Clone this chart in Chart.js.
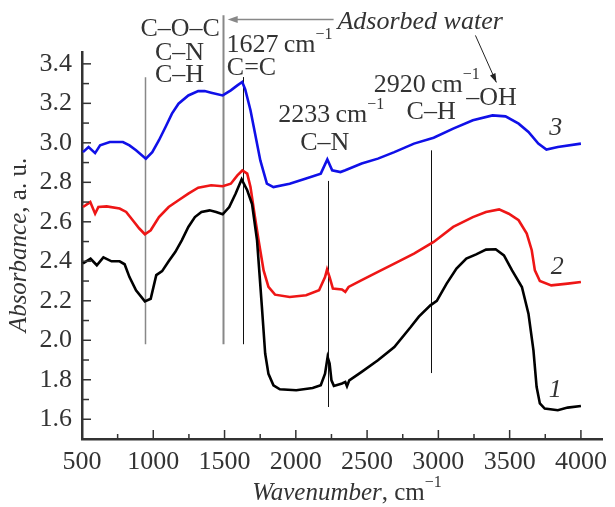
<!DOCTYPE html>
<html>
<head>
<meta charset="utf-8">
<script src="https://cdn.jsdelivr.net/npm/chart.js@4"></script>
<style>
  html, body { margin: 0; padding: 0; background: #fff; }
  #wrap { width: 615px; height: 507px; position: relative; }
</style>
</head>
<body>
<div id="wrap"><canvas id="chart"></canvas></div>
<script>
// spectrum 1 (black)
const WN_1 = [507, 560, 604, 650, 707, 764, 799, 833, 879, 941, 982, 1021, 1062, 1108, 1154, 1200, 1246, 1292, 1338, 1395, 1441, 1487, 1533, 1578, 1620, 1659, 1693, 1728, 1762, 1785, 1808, 1843, 1888, 2003, 2118, 2175, 2205, 2223, 2237, 2250, 2267, 2324, 2347, 2359, 2375, 2462, 2576, 2691, 2806, 2863, 2944, 2989, 3058, 3127, 3196, 3265, 3334, 3402, 3460, 3517, 3586, 3632, 3667, 3689, 3712, 3746, 3838, 3907, 4000];
const ABS_1 = [2.39, 2.413, 2.38, 2.42, 2.40, 2.40, 2.385, 2.32, 2.253, 2.197, 2.21, 2.33, 2.35, 2.40, 2.447, 2.506, 2.574, 2.624, 2.65, 2.658, 2.65, 2.638, 2.675, 2.743, 2.815, 2.76, 2.69, 2.506, 2.169, 1.933, 1.83, 1.772, 1.752, 1.747, 1.758, 1.772, 1.831, 1.915, 1.882, 1.797, 1.769, 1.781, 1.789, 1.767, 1.797, 1.84, 1.899, 1.966, 2.067, 2.12, 2.177, 2.20, 2.287, 2.363, 2.414, 2.435, 2.459, 2.461, 2.43, 2.354, 2.27, 2.135, 1.949, 1.764, 1.68, 1.654, 1.646, 1.659, 1.667];

// spectrum 2 (red)
const WN_2 = [507, 558, 592, 615, 673, 764, 810, 856, 902, 941, 982, 1040, 1108, 1177, 1246, 1315, 1406, 1487, 1544, 1590, 1625, 1659, 1682, 1710, 1739, 1774, 1808, 1854, 1957, 2072, 2163, 2205, 2219, 2237, 2260, 2324, 2347, 2370, 2462, 2576, 2691, 2829, 2967, 3104, 3242, 3334, 3426, 3494, 3563, 3620, 3655, 3677, 3712, 3792, 3907, 4000];
const ABS_2 = [2.675, 2.70, 2.641, 2.675, 2.678, 2.667, 2.65, 2.608, 2.566, 2.537, 2.557, 2.624, 2.675, 2.709, 2.743, 2.773, 2.785, 2.78, 2.793, 2.835, 2.86, 2.844, 2.776, 2.64, 2.506, 2.354, 2.27, 2.231, 2.219, 2.228, 2.253, 2.32, 2.358, 2.32, 2.262, 2.257, 2.245, 2.27, 2.305, 2.346, 2.388, 2.439, 2.498, 2.574, 2.624, 2.65, 2.663, 2.641, 2.608, 2.54, 2.456, 2.354, 2.30, 2.278, 2.287, 2.295];

// spectrum 3 (blue)
const WN_3 = [507, 546, 592, 627, 695, 787, 833, 879, 948, 993, 1040, 1086, 1131, 1177, 1246, 1315, 1361, 1406, 1487, 1544, 1590, 1624, 1645, 1682, 1705, 1751, 1797, 1843, 1957, 2072, 2175, 2221, 2255, 2313, 2347, 2462, 2576, 2691, 2829, 2967, 3104, 3242, 3380, 3471, 3563, 3632, 3701, 3758, 3838, 4000];
const ABS_3 = [2.953, 2.979, 2.948, 2.987, 3.004, 3.004, 2.987, 2.962, 2.92, 2.953, 3.013, 3.08, 3.148, 3.198, 3.24, 3.262, 3.262, 3.254, 3.24, 3.266, 3.291, 3.308, 3.27, 3.165, 3.08, 2.911, 2.793, 2.776, 2.793, 2.819, 2.844, 2.916, 2.861, 2.852, 2.861, 2.895, 2.92, 2.953, 2.996, 3.026, 3.072, 3.114, 3.139, 3.134, 3.097, 3.055, 2.996, 2.966, 2.979, 2.996];

const X_TICKS = [500, 1000, 1500, 2000, 2500, 3000, 3500, 4000];
const X_MINOR = [750, 1250, 1750, 2250, 2750, 3250, 3750];
const Y_TICKS = [1.6, 1.8, 2.0, 2.2, 2.4, 2.6, 2.8, 3.0, 3.2, 3.4];
const Y_MINOR = [1.7, 1.9, 2.1, 2.3, 2.5, 2.7, 2.9, 3.1, 3.3];

// band marker lines: position, top, bottom (data units)
const MARK_X = [941, 1489, 1629, 2225, 2948];
const MARK_TOP = [3.332, 3.646, 3.333, 2.807, 2.962];
const MARK_BOT = [1.98, 1.98, 1.98, 1.662, 1.834];

const FONT = '"Liberation Serif", "Times New Roman", serif';
const INK = '#333';

function toPts(xs, ys) { return xs.map((x, i) => ({ x: x, y: ys[i] })); }

// draws a run of text pieces: [text, 'r' | 'i' | 's']
function rich(ctx, parts, x, y, align, size) {
  size = size || 26;
  const fontOf = k => k === 'i' ? 'italic ' + size + 'px ' + FONT : (k === 's' ? Math.round(size * 0.62) + 'px ' + FONT : size + 'px ' + FONT);
  let w = 0;
  parts.forEach(p => { ctx.font = fontOf(p[1]); w += ctx.measureText(p[0]).width; });
  let cx = align === 'center' ? x - w / 2 : (align === 'right' ? x - w : x);
  ctx.textAlign = 'left';
  ctx.textBaseline = 'middle';
  parts.forEach(p => {
    ctx.font = fontOf(p[1]);
    ctx.fillText(p[0], cx, p[1] === 's' ? y - size * 0.4 : y);
    cx += ctx.measureText(p[0]).width;
  });
}

const decor = {
  id: 'decor',
  beforeDatasetsDraw(chart) {
    const { ctx, scales: { x, y } } = chart;
    ctx.save();
    MARK_X.forEach((m, i) => {
      const px = Math.round(x.getPixelForValue(m)) + 0.5;
      ctx.strokeStyle = i < 2 ? '#888' : '#111';
      ctx.lineWidth = i === 1 ? 2 : (i === 0 ? 1.5 : 1);
      ctx.beginPath();
      ctx.moveTo(px, y.getPixelForValue(MARK_TOP[i]));
      ctx.lineTo(px, y.getPixelForValue(MARK_BOT[i]));
      ctx.stroke();
    });
    ctx.restore();
  },
  afterDraw(chart) {
    const { ctx, scales: { x, y }, chartArea } = chart;
    ctx.save();
    // inward ticks
    ctx.strokeStyle = INK;
    ctx.lineWidth = 1.5;
    const b = chartArea.bottom, l = chartArea.left;
    X_TICKS.concat(X_MINOR).forEach(v => {
      const px = x.getPixelForValue(v);
      const len = X_MINOR.includes(v) ? 5 : 9;
      ctx.beginPath(); ctx.moveTo(px, b); ctx.lineTo(px, b - len); ctx.stroke();
    });
    Y_TICKS.concat(Y_MINOR).forEach(v => {
      const py = y.getPixelForValue(v);
      const len = Y_MINOR.includes(v) ? 7 : 9;
      ctx.beginPath(); ctx.moveTo(l, py); ctx.lineTo(l + len, py); ctx.stroke();
    });

    // arrows
    ctx.strokeStyle = '#888';
    ctx.fillStyle = '#888';
    ctx.lineWidth = 1.5;
    const ax0 = x.getPixelForValue(1522), ax1 = x.getPixelForValue(2265), ay = y.getPixelForValue(3.624);
    ctx.beginPath(); ctx.moveTo(ax0 + 6, ay); ctx.lineTo(ax1, ay); ctx.stroke();
    ctx.beginPath(); ctx.moveTo(ax0, ay); ctx.lineTo(ax0 + 10, ay - 3.5); ctx.lineTo(ax0 + 10, ay + 3.5); ctx.closePath(); ctx.fill();

    ctx.strokeStyle = '#222';
    ctx.fillStyle = '#222';
    ctx.lineWidth = 1;
    const bx0 = x.getPixelForValue(3260), by0 = y.getPixelForValue(3.544);
    const bx1 = x.getPixelForValue(3407), by1 = y.getPixelForValue(3.306);
    const ang = Math.atan2(by1 - by0, bx1 - bx0);
    ctx.beginPath(); ctx.moveTo(bx0, by0); ctx.lineTo(bx1, by1); ctx.stroke();
    ctx.beginPath();
    ctx.moveTo(bx1, by1);
    ctx.lineTo(bx1 - 9 * Math.cos(ang) + 3 * Math.sin(ang), by1 - 9 * Math.sin(ang) - 3 * Math.cos(ang));
    ctx.lineTo(bx1 - 9 * Math.cos(ang) - 3 * Math.sin(ang), by1 - 9 * Math.sin(ang) + 3 * Math.cos(ang));
    ctx.closePath(); ctx.fill();

    // labels
    ctx.fillStyle = INK;
    const cm = [['\u2009cm', 'r'], ['\u22121', 's']];
    rich(ctx, [['C\u2013O\u2013C', 'r']], x.getPixelForValue(1189), y.getPixelForValue(3.575), 'center');
    rich(ctx, [['C\u2013N', 'r']], x.getPixelForValue(1184), y.getPixelForValue(3.453), 'center');
    rich(ctx, [['C\u2013H', 'r']], x.getPixelForValue(1184), y.getPixelForValue(3.342), 'center');
    rich(ctx, [['1627', 'r']].concat(cm), x.getPixelForValue(1514), y.getPixelForValue(3.496), 'left');
    rich(ctx, [['C=C', 'r']], x.getPixelForValue(1516), y.getPixelForValue(3.377), 'left');
    rich(ctx, [['2233', 'r']].concat(cm), x.getPixelForValue(1877), y.getPixelForValue(3.139), 'left');
    rich(ctx, [['C\u2013N', 'r']], x.getPixelForValue(2203), y.getPixelForValue(3.0), 'center');
    rich(ctx, [['2920', 'r']].concat(cm), x.getPixelForValue(2547), y.getPixelForValue(3.291), 'left');
    rich(ctx, [['C\u2013H', 'r']], x.getPixelForValue(2949), y.getPixelForValue(3.156), 'center');
    rich(ctx, [['\u2013OH', 'r']], x.getPixelForValue(3373), y.getPixelForValue(3.225), 'center');
    rich(ctx, [['Adsorbed water', 'i']], x.getPixelForValue(2292), y.getPixelForValue(3.612), 'left');
    rich(ctx, [['3', 'i']], x.getPixelForValue(3824), y.getPixelForValue(3.073), 'center');
    rich(ctx, [['2', 'i']], x.getPixelForValue(3834), y.getPixelForValue(2.37), 'center');
    rich(ctx, [['1', 'i']], x.getPixelForValue(3820), y.getPixelForValue(1.747), 'center');

    // axis titles
    rich(ctx, [['Wavenumber', 'i'], [', cm', 'r'], ['\u22121', 's']], 347, 493, 'center', 25);
    ctx.translate(19, 245);
    ctx.rotate(-Math.PI / 2);
    rich(ctx, [['Absorbance', 'i'], [', a. u.', 'r']], 0, 0, 'center', 25);
    ctx.restore();
  }
};

const line = (pts, color) => ({
  data: pts, showLine: true, borderColor: color, borderWidth: 2.6,
  pointRadius: 0, tension: 0, fill: false
});

function build() {
  new Chart(document.getElementById('chart'), {
    type: 'scatter',
    data: {
      datasets: [
        line(toPts(WN_1, ABS_1), '#000'),
        line(toPts(WN_2, ABS_2), '#ee1616'),
        line(toPts(WN_3, ABS_3), '#1010e8')
      ]
    },
    options: {
      responsive: true, maintainAspectRatio: false, animation: false,
      layout: { padding: { top: 52, right: 2, left: 0, bottom: 0 } },
      plugins: { legend: { display: false }, tooltip: { enabled: false } },
      scales: {
        x: {
          type: 'linear', min: 500, max: 4150,
          grid: { display: false, drawTicks: false },
          border: { display: true, color: INK, width: 2.5 },
          ticks: { color: INK, font: { family: FONT, size: 26 }, padding: 8, maxRotation: 0, callback: v => String(v) },
          afterBuildTicks: s => { s.ticks = X_TICKS.map(v => ({ value: v })); },
          afterFit: s => { s.height = 68; }
        },
        y: {
          type: 'linear', min: 1.5, max: 3.46,
          grid: { display: false, drawTicks: false },
          border: { display: true, color: INK, width: 2.5 },
          ticks: { color: INK, font: { family: FONT, size: 26 }, padding: 10, callback: v => v.toFixed(1) },
          afterBuildTicks: s => { s.ticks = Y_TICKS.map(v => ({ value: v })); },
          afterFit: s => { s.width = 82; }
        }
      }
    },
    plugins: [decor]
  });
}

Promise.all([
  document.fonts.load('26px "Liberation Serif"'),
  document.fonts.load('italic 26px "Liberation Serif"')
]).then(build, build);
</script>
</body>
</html>
